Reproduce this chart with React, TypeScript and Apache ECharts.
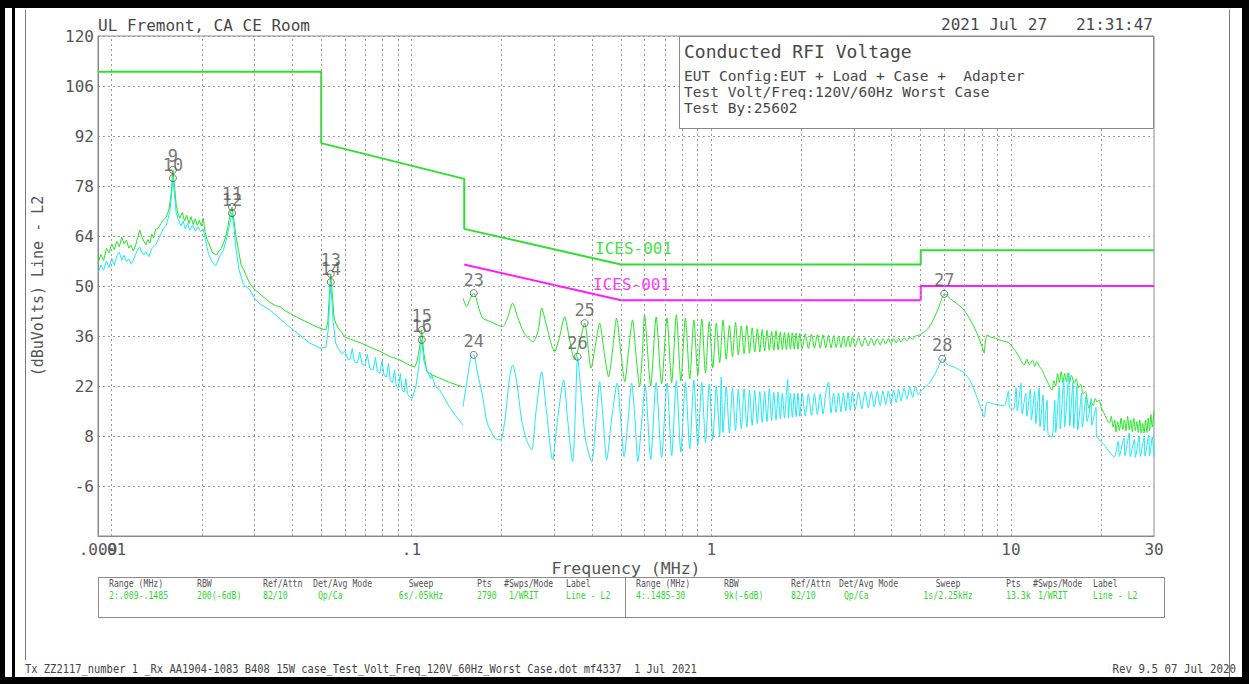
import React, { useEffect, useRef } from 'react';
import * as echarts from 'echarts';

// ---------- DATA (frequency in MHz, level in dBuV) ----------
const Y_TICKS = [-20, -6, 8, 22, 36, 50, 64, 78, 92, 106, 120];
const X_MIN = 0.009;
const X_MAX = 30;
const X_TICK_VALUES = [0.009, 0.01, 0.1, 1, 10, 30];
const X_TICK_LABELS = ['.009', '.01', '.1', '1', '10', '30'];
const GRID_FREQS = [0.01, 0.02, 0.03, 0.04, 0.05, 0.06, 0.07, 0.08, 0.09, 0.1, 0.2, 0.3, 0.4, 0.5, 0.6, 0.7, 0.8, 0.9, 1, 2, 3, 4, 5, 6, 7, 8, 9, 10, 20];

const qpSeg1: [number, number][] = [
  [0.009, 56.4], [0.0092, 58.8], [0.0094, 57.2], [0.0096, 60.5], [0.0098, 59.3], [0.01, 61.8], [0.0102, 60.2], [0.0104, 62.5], [0.0106, 61], [0.0108, 63.7], [0.011, 61.8], [0.0112, 62.8], [0.0114, 60.6], [0.0116, 61.5], [0.0118, 59.8], [0.012, 61.2], [0.0122, 63.5], [0.0124, 65.7], [0.0126, 63.8], [0.0128, 62.5], [0.013, 61.5], [0.0132, 63], [0.0134, 62], [0.0136, 64.5], [0.0138, 63.5], [0.014, 65.8], [0.0143, 66.2], [0.0146, 67.5], [0.0149, 68.6], [0.0152, 69.3], [0.0155, 71.2], [0.0158, 76], [0.016, 82.5], [0.0162, 78], [0.0164, 73], [0.0166, 70.4], [0.0169, 69], [0.0172, 70.6], [0.0175, 68.2], [0.0178, 69.8], [0.0181, 67.5], [0.0184, 69.4], [0.0187, 67.2], [0.019, 68.8], [0.0193, 67], [0.0196, 68.4], [0.0199, 66.8], [0.0202, 69], [0.0205, 65], [0.0208, 62.9], [0.0212, 61.5], [0.0216, 59.5], [0.022, 59], [0.0224, 58.7], [0.0228, 59.8], [0.0232, 60.5], [0.0236, 62], [0.024, 63.8], [0.0244, 66.5], [0.0248, 70], [0.0252, 72.1], [0.0256, 68], [0.026, 63.7], [0.0265, 60], [0.027, 56], [0.0276, 54.5], [0.0282, 52.5], [0.029, 50.5], [0.03, 49], [0.031, 48], [0.032, 47], [0.0336, 45.5], [0.0352, 44.5], [0.0364, 44.2], [0.038, 43], [0.04, 42], [0.042, 41], [0.0445, 40], [0.047, 39], [0.0495, 38.2], [0.0518, 37.7], [0.0526, 40], [0.0532, 47], [0.0538, 53.4], [0.0545, 47], [0.0552, 41], [0.0559, 39.6], [0.057, 38.2], [0.0585, 37], [0.06, 35.7], [0.064, 34.8], [0.068, 34], [0.0726, 32.9], [0.078, 31.8], [0.0846, 30.3], [0.0914, 29.3], [0.0986, 27.8], [0.1025, 27.3], [0.1045, 29], [0.1065, 33], [0.1082, 37.7], [0.11, 31], [0.1125, 26], [0.118, 25], [0.1242, 24.2], [0.1341, 23], [0.1485, 21.7]
];

const avSeg1: [number, number][] = [
  [0.009, 53.6], [0.0092, 55.8], [0.0094, 54.5], [0.0096, 57], [0.0098, 55.2], [0.01, 57.8], [0.0102, 55.8], [0.0104, 58.5], [0.0106, 59.5], [0.0108, 57.2], [0.011, 58.6], [0.0112, 56.8], [0.0114, 57.6], [0.0116, 56.2], [0.0118, 57.2], [0.012, 58.8], [0.0122, 60.2], [0.0124, 60.9], [0.0126, 59.5], [0.0128, 58.7], [0.013, 59.6], [0.0133, 58.2], [0.0136, 60.5], [0.014, 61.5], [0.0144, 63.5], [0.0148, 65.7], [0.0152, 67], [0.0156, 70.5], [0.0158, 74.5], [0.016, 80.2], [0.0162, 75.5], [0.0164, 70.5], [0.0167, 68.5], [0.017, 66.8], [0.0173, 68.2], [0.0176, 66], [0.0179, 67.5], [0.0182, 65.6], [0.0186, 67], [0.019, 65.4], [0.0194, 66.6], [0.0198, 65.2], [0.0202, 66], [0.0206, 62.5], [0.021, 59.2], [0.0214, 57.5], [0.0218, 56.4], [0.0222, 55.6], [0.0226, 57], [0.023, 58.5], [0.0236, 60.1], [0.0242, 63.5], [0.0247, 67], [0.0252, 70.4], [0.0256, 66], [0.026, 60.1], [0.0266, 54.5], [0.0275, 50.5], [0.0289, 48.9], [0.03, 46.5], [0.0312, 45], [0.0337, 43.3], [0.0364, 40.8], [0.0393, 38.5], [0.042, 36.5], [0.0458, 34], [0.0495, 32.6], [0.0518, 32.8], [0.0528, 38], [0.0538, 51.1], [0.0548, 40], [0.0559, 34], [0.057, 32.5], [0.0585, 31], [0.06, 31.8], [0.0615, 29.5], [0.0623, 29.3], [0.0635, 32.5], [0.0645, 28.8], [0.066, 28.5], [0.0672, 31.5], [0.0685, 28], [0.07, 27.8], [0.0712, 30.8], [0.0726, 27], [0.0745, 26.5], [0.0758, 30], [0.077, 26], [0.0784, 25.6], [0.0798, 29], [0.081, 25], [0.0825, 24.5], [0.0838, 28.3], [0.085, 23.5], [0.0865, 23], [0.0878, 26.5], [0.089, 22], [0.0905, 21.5], [0.0918, 25.5], [0.093, 21], [0.0945, 20.3], [0.0958, 24], [0.097, 19.8], [0.0986, 18.9], [0.1007, 18.6], [0.1035, 22], [0.106, 28], [0.1082, 34.9], [0.11, 29], [0.1125, 26.5], [0.116, 24], [0.1165, 25.5], [0.12, 22], [0.1242, 20.9], [0.128, 19], [0.1341, 16], [0.14, 13.8], [0.1485, 11.1]
];

const qpSeg2: [number, number][] = [
  [0.1485, 46.6], [0.1528, 44.2], [0.157, 46.5], [0.1613, 48], [0.1685, 43.3], [0.1728, 41], [0.184, 40], [0.2013, 38.6], [0.209, 41], [0.2175, 45.2], [0.2259, 41.4], [0.2377, 36.8], [0.2546, 34.4], [0.265, 37.7], [0.2719, 43.8], [0.281, 39.5], [0.3003, 31.6], [0.312, 35.8], [0.3243, 41.4], [0.337, 34.9], [0.3501, 29.3], [0.3638, 34], [0.3781, 39.6], [0.3974, 27], [0.41, 33], [0.4243, 39.6], [0.44, 31], [0.4547, 24.6], [0.47, 33], [0.4833, 41], [0.5, 31], [0.5149, 23.2], [0.53, 32], [0.5463, 40.5], [0.562, 30], [0.5771, 21.8], [0.59, 32], [0.599, 41.9],
  [0.628, 22], [0.655, 41.3], [0.683, 22.6], [0.712, 41], [0.738, 23], [0.765, 42], [0.792, 23.5], [0.82, 41], [0.848, 24], [0.875, 40.5], [0.902, 25], [0.93, 40.8], [0.957, 25.6], [0.985, 40], [1.012, 27], [1.04, 39.6], [1.067, 28.5], [1.095, 40.5], [1.122, 29.5], [1.15, 39], [1.177, 30.2], [1.205, 39.8], [1.232, 30.7], [1.26, 38.8], [1.287, 31], [1.315, 39], [1.342, 31.2], [1.37, 38.3], [1.397, 31.5], [1.425, 38], [1.452, 31.5], [1.48, 37.8], [1.507, 31.8], [1.535, 37.6], [1.562, 32], [1.59, 37.3], [1.617, 32], [1.645, 37.5], [1.672, 32.1], [1.7, 37.1], [1.727, 32.2], [1.755, 37], [1.782, 32.2], [1.81, 36.9], [1.837, 32.3], [1.865, 36.9], [1.892, 32.3], [1.92, 36.8], [1.947, 32.3], [1.975, 36.7], [2.01, 32.4], [2.06, 36.6], [2.11, 32.5], [2.16, 36.5], [2.21, 32.6], [2.26, 36.4], [2.31, 32.6], [2.36, 36.3], [2.41, 32.7], [2.46, 36.2], [2.51, 32.7], [2.56, 36.1], [2.61, 32.8], [2.66, 36], [2.71, 32.8], [2.76, 35.9], [2.81, 32.9], [2.86, 35.8], [2.91, 32.9], [2.96, 35.7], [3.02, 33], [3.1, 35.6], [3.18, 33.1], [3.26, 35.5], [3.34, 33.2], [3.42, 35.4], [3.5, 33.3], [3.58, 35.3], [3.66, 33.5], [3.74, 35.3], [3.82, 33.7], [3.9, 35.3], [3.98, 33.9], [4.06, 35.3], [4.14, 34.1], [4.22, 35.4], [4.3, 34.3], [4.4, 35.5], [4.5, 34.6], [4.6, 35.7], [4.7, 35.1], [4.8, 36], [4.95, 36.3],
  [5.15, 37.2], [5.34, 38.5], [5.5, 40.5], [5.7, 43.3], [5.85, 46], [5.99, 47.8], [6.1, 47.5], [6.23, 46.6], [6.5, 45.5], [6.88, 43.8], [7.2, 41.5], [7.54, 38.5], [7.85, 35], [8.05, 32.5], [8.14, 31.2], [8.2, 34], [8.33, 36.3], [8.6, 35.6], [8.9, 35.4], [9.14, 34.9], [9.5, 34.5], [9.8, 34.2], [10, 33.5], [10.5, 31], [11.07, 27.9], [11.3, 29.5], [11.5, 28], [11.8, 29.2], [12, 27.5], [12.2, 28.8], [12.42, 27.5], [12.7, 26.5], [13, 24.5], [13.35, 22.5], [13.7, 20.9], [13.9, 23.5], [14.1, 22], [14.3, 25.5], [14.5, 23], [14.7, 26], [14.9, 23], [15.1, 25.5], [15.3, 23.2], [15.5, 25.7], [15.7, 23], [15.9, 25], [16.25, 22.8], [16.5, 24], [16.8, 21.5], [17.1, 22.5], [17.4, 19.8], [17.7, 20.5], [18, 17.5], [18.2, 15.8], [18.5, 17.5], [18.8, 16.5], [19.1, 18.5], [19.4, 17.5], [19.7, 18.1], [20, 16], [20.4, 14.5], [20.8, 13], [21.3, 11.6], [21.6, 13.5], [21.9, 10.5], [22.2, 12.5], [22.4, 9.1], [22.7, 12], [23, 9.5], [23.3, 13], [23.6, 9.8], [23.9, 12.5], [24.2, 9.5], [24.5, 13.5], [24.8, 9.7], [25.1, 12.5], [25.4, 9.2], [25.7, 13], [26, 9.5], [26.3, 12], [26.6, 9], [26.9, 12.5], [27.2, 8.8], [27.5, 11.5], [27.8, 8.8], [28.1, 12.5], [28.4, 9], [28.7, 13], [29, 9.5], [29.3, 14], [29.6, 10.5], [30, 15]
];

const avSeg2: [number, number][] = [
  [0.1485, 16.2], [0.1528, 22.8], [0.158, 30.2], [0.1613, 30.7], [0.1653, 26.5], [0.1728, 19], [0.179, 11.6], [0.19, 7.4], [0.198, 6.9], [0.205, 12.5], [0.212, 23.7], [0.2175, 27.9], [0.224, 23.7], [0.233, 12.5], [0.242, 6.9], [0.2517, 4.1], [0.26, 14.4], [0.2719, 26], [0.281, 16.2], [0.2957, 1.3], [0.307, 12.5], [0.3218, 23.7], [0.332, 12.5], [0.3448, 0.8], [0.352, 14.4], [0.3583, 30.2], [0.367, 20.9], [0.381, 6.9], [0.3991, 0.8], [0.413, 12.5], [0.4243, 23.2], [0.436, 12.5], [0.4478, 1.3], [0.465, 12.5], [0.4855, 22.8], [0.499, 12.5], [0.512, 2.2], [0.528, 12.5], [0.5425, 22.8], [0.557, 12.5], [0.569, 0.9], [0.587, 12.5], [0.602, 22.3],
  [0.628, 1.5], [0.655, 23], [0.683, 2], [0.712, 22.8], [0.738, 2.5], [0.765, 23.5], [0.792, 3.5], [0.82, 23], [0.848, 4.5], [0.875, 23.7], [0.902, 5.5], [0.93, 23], [0.957, 6.2], [0.985, 22.5], [1.012, 7], [1.04, 22], [1.067, 8], [1.08, 24.5], [1.095, 9], [1.122, 21.8], [1.15, 8.8], [1.177, 21.5], [1.205, 9.5], [1.232, 21], [1.26, 10], [1.287, 21.2], [1.315, 10.5], [1.342, 20.8], [1.37, 11], [1.397, 20.8], [1.425, 11.5], [1.452, 20.5], [1.48, 11.8], [1.507, 20.5], [1.535, 12], [1.562, 21.2], [1.59, 12.3], [1.617, 20.2], [1.645, 12.5], [1.672, 20.3], [1.7, 12.8], [1.727, 20], [1.755, 13], [1.782, 20.1], [1.8, 23.8], [1.81, 13], [1.837, 20], [1.865, 13.2], [1.892, 19.9], [1.92, 13.4], [1.947, 20], [1.975, 13.5], [2.01, 20], [2.06, 13.6], [2.11, 19.8], [2.16, 13.8], [2.21, 19.9], [2.26, 14], [2.31, 19.8], [2.36, 14.2], [2.41, 19.9], [2.46, 23.1], [2.51, 14.4], [2.56, 19.9], [2.61, 14.6], [2.66, 20], [2.71, 14.8], [2.76, 20.1], [2.81, 15], [2.86, 20.2], [2.91, 15.2], [2.96, 20.3], [3.02, 15.4], [3.1, 20.3], [3.18, 15.6], [3.26, 20.4], [3.34, 15.9], [3.42, 20.4], [3.5, 16.2], [3.58, 20.5], [3.66, 16.5], [3.74, 20.6], [3.82, 16.8], [3.9, 20.6], [3.98, 17.1], [4.06, 20.8], [4.14, 17.4], [4.22, 21], [4.3, 17.8], [4.4, 21.4], [4.5, 18.3], [4.6, 21.8], [4.7, 18.8], [4.8, 22], [4.9, 19.5],
  [5, 20.5], [5.15, 21.5], [5.34, 22.8], [5.5, 24.5], [5.7, 27], [5.9, 29.6], [6.05, 28.5], [6.2, 27.8], [6.47, 27.3], [6.99, 25.6], [7.3, 23.5], [7.54, 20.9], [7.8, 17.5], [8, 15], [8.14, 13.3], [8.25, 16.5], [8.33, 17.5], [8.7, 17], [9.14, 16.7], [9.5, 16.4], [9.8, 20.5], [9.9, 16], [10.2, 15.5], [10.4, 21.5], [10.5, 15], [10.8, 22.8], [10.9, 14.2], [11.2, 20], [11.3, 13.5], [11.6, 21], [11.7, 12.5], [12, 20.5], [12.1, 11.5], [12.42, 21.5], [12.5, 10.5], [12.8, 19.5], [12.9, 9.5], [13.2, 18], [13.3, 8.5], [13.7, 7.7], [14, 18], [14.1, 9], [14.5, 22], [14.6, 10], [15, 24], [15.1, 10.5], [15.6, 25.6], [15.7, 10.8], [16.1, 23], [16.2, 10.2], [16.6, 22], [16.7, 9.7], [17.2, 20], [17.3, 10.5], [17.8, 19], [17.9, 12], [18.2, 14], [18.5, 18.5], [18.6, 11], [19.2, 16], [19.3, 8], [19.7, 6.9], [20.5, 5.5], [21.3, 3.5], [22.1, 2.1], [22.8, 6.5], [23, 2.3], [23.8, 7.5], [24, 2.5], [24.8, 8.8], [25, 2.2], [25.8, 7], [26, 2], [26.8, 8], [27, 2.3], [27.8, 7.5], [28, 2.4], [28.8, 8.2], [29, 2.5], [29.6, 7.7], [30, 2.1]
];

const qpLimit: [number, number][] = [[0.009, 110], [0.05, 110], [0.05, 90], [0.15, 80], [0.15, 66], [0.5, 56], [5, 56], [5, 60], [30, 60]];
const avLimit: [number, number][] = [[0.15, 56], [0.5, 46], [5, 46], [5, 50], [30, 50]];

const markerIds = ['9', '10', '11', '12', '13', '14', '15', '16', '23', '24', '25', '26', '27', '28'];
const markerFreqs = [0.016, 0.016, 0.0252, 0.0252, 0.0538, 0.0538, 0.1082, 0.1082, 0.1613, 0.1613, 0.3781, 0.3583, 5.99, 5.9];
const markerLevels = [82.5, 80.2, 72.1, 70.4, 53.4, 51.1, 37.7, 34.9, 48, 30.7, 39.6, 30.2, 47.8, 29.6];

const tableHeaders = ['Range (MHz)', 'RBW', 'Ref/Attn', 'Det/Avg Mode', 'Sweep', 'Pts', '#Swps/Mode', 'Label'];
const tableRowA = ['2:.009-.1485', '200(-6dB)', '82/10', ' Qp/Ca', '6s/.05kHz', '2790', ' 1/WRIT', 'Line - L2'];
const tableRowB = ['4:.1485-30', '9k(-6dB)', '82/10', ' Qp/Ca', '1s/2.25kHz', '13.3k', ' 1/WRIT', 'Line - L2'];

// ---------- styling ----------
const MONO = 'DejaVu Sans Mono';
const TXT = '#484848';
const LBL = '#555555';
const GREEN = '#22e622';
const CYAN = '#1ee8f5';
const LIM_GREEN = '#2ee02e';
const MAGENTA = '#ff1aff';

export default function App() {
  const ref = useRef<HTMLDivElement>(null);

  useEffect(() => {
    if (!ref.current) return;
    const chart = echarts.init(ref.current, undefined, { renderer: 'svg' });
    const yShift = -Y_TICKS[0];
    const yStep = Y_TICKS[1] - Y_TICKS[0];
    const sh = (pts: [number, number][]) => pts.map(([f, v]) => [f, v + yShift]);

    const trace = (name: string, pts: [number, number][], color: string, width = 1, z = 3, smooth: number | boolean = false) => ({
      name, type: 'line', data: sh(pts), showSymbol: false, symbol: 'none', smooth,
      lineStyle: { color, width }, itemStyle: { color }, z, silent: true, animation: false,
    });

    const txt = (text: string, x: number, y: number, size: number, fill = TXT, align = 'left', sx = 1) => ({
      type: 'text', x, y, scaleX: sx, silent: true, z: 100,
      style: { text, fill, font: `${size}px "${MONO}"`, align, textAlign: align, verticalAlign: 'middle', textVerticalAlign: 'middle' },
    });

    const colXA = [109, 197, 263, 313, 421, 477, 504, 566];
    const colXB = [636, 724, 791, 839, 948, 1006, 1033, 1093];
    const tableTexts: any[] = [];
    const pushRow = (xs: number[], vals: string[]) => {
      tableHeaders.forEach((h, i) => {
        const al = i === 4 ? 'center' : 'left';
        tableTexts.push(txt(h, xs[i], 584, 10, '#555', al, 0.82));
        tableTexts.push(txt(vals[i], xs[i], 596, 10, '#2fd62f', al, 0.82));
      });
    };
    pushRow(colXA, tableRowA);
    pushRow(colXB, tableRowB);

    const graphicBase: any[] = [
      // outer frame
      { type: 'rect', shape: { x: 0, y: 0, width: 1249, height: 8 }, style: { fill: '#000' }, silent: true, z: 100 },
      { type: 'rect', shape: { x: 0, y: 677, width: 1249, height: 7 }, style: { fill: '#000' }, silent: true, z: 100 },
      { type: 'rect', shape: { x: 0, y: 0, width: 5, height: 684 }, style: { fill: '#000' }, silent: true, z: 100 },
      { type: 'rect', shape: { x: 1242, y: 0, width: 7, height: 684 }, style: { fill: '#000' }, silent: true, z: 100 },
      { type: 'rect', shape: { x: 12, y: 8, width: 3, height: 669 }, style: { fill: '#000' }, silent: true, z: 100 },
      { type: 'line', shape: { x1: 25.5, y1: 10, x2: 25.5, y2: 660 }, style: { stroke: '#777', lineWidth: 1 }, silent: true, z: 100 },
      { type: 'line', shape: { x1: 1229.5, y1: 10, x2: 1229.5, y2: 677 }, style: { stroke: '#777', lineWidth: 1 }, silent: true, z: 100 },
      // header
      txt('UL Fremont, CA CE Room', 98, 25, 16),
      txt('2021 Jul 27   21:31:47', 1153, 24, 16, TXT, 'right'),
      { type: 'rect', shape: { x: 679.5, y: 36.5, width: 474, height: 92 }, style: { fill: '#fff', stroke: '#8a8a8a', lineWidth: 1 }, silent: true, z: 99 },
      txt('Conducted RFI Voltage', 684, 51, 18),
      txt('EUT Config:EUT + Load + Case +  Adapter', 684, 76, 14.5),
      txt('Test Volt/Freq:120V/60Hz Worst Case', 684, 92, 14.5),
      txt('Test By:25602', 684, 108, 14.5),
      // limit labels
      txt('ICES-001', 595, 248, 16, '#49e049'),
      txt('ICES-001', 593, 284, 16, '#ff3cff'),
      // table
      { type: 'rect', shape: { x: 98.5, y: 577.5, width: 1066, height: 40 }, style: { fill: 'none', stroke: '#8a8a8a', lineWidth: 1 }, silent: true, z: 100 },
      { type: 'line', shape: { x1: 625.5, y1: 577.5, x2: 625.5, y2: 617.5 }, style: { stroke: '#8a8a8a', lineWidth: 1 }, silent: true, z: 100 },
      ...tableTexts,
      // footer
      txt('Tx ZZ2117_number 1 _Rx AA1904-1083 B408 15W case_Test_Volt_Freq_120V_60Hz_Worst Case.dot mf4337  1 Jul 2021', 25, 669, 12, '#444', 'left', 0.87),
      txt('Rev 9.5 07 Jul 2020', 1236, 669, 12, '#444', 'right', 0.9),
    ];

    const option: any = {
      animation: false,
      backgroundColor: '#ffffff',
      grid: { left: 98, top: 36, width: 1056, height: 500, show: true, borderColor: '#8a8a8a', borderWidth: 1, backgroundColor: 'transparent' },
      xAxis: {
        type: 'log', logBase: 10, min: X_MIN, max: X_MAX,
        axisLine: { show: true, onZero: false, lineStyle: { color: '#8a8a8a', width: 1 } },
        axisTick: { show: false },
        splitLine: { show: false },
        axisLabel: { show: false },
        name: 'Frequency (MHz)', nameLocation: 'middle', nameGap: 24,
        nameTextStyle: { color: LBL, fontSize: 16.5, fontFamily: MONO },
      },
      yAxis: {
        type: 'value', min: 0, max: Y_TICKS[Y_TICKS.length - 1] + yShift, interval: yStep,
        axisLine: { show: true, lineStyle: { color: '#8a8a8a', width: 1 } },
        axisTick: { show: false },
        splitLine: { show: true, lineStyle: { color: '#9a9a9a', width: 1, type: [2, 3] } },
        axisLabel: {
          color: LBL, fontSize: 16, fontFamily: MONO, margin: 4,
          formatter: (v: number) => { const r = Math.round(v - yShift); return r === Y_TICKS[0] ? '' : String(r); },
        },
        name: '(dBuVolts) Line - L2', nameLocation: 'middle', nameGap: 53, nameRotate: 90,
        nameTextStyle: { color: LBL, fontSize: 15, fontFamily: MONO },
      },
      series: [
        {
          name: 'grid', type: 'line', data: [], silent: true, z: 1,
          markLine: {
            silent: true, symbol: ['none', 'none'], animation: false,
            label: { show: false },
            lineStyle: { color: '#9a9a9a', width: 1, type: [2, 3] },
            data: GRID_FREQS.map((f) => ({ xAxis: f })),
          },
        },
        trace('QP limit', qpLimit, LIM_GREEN, 2, 2),
        trace('AV limit', avLimit, MAGENTA, 2, 2),
        trace('QP seg1', qpSeg1, GREEN),
        trace('QP seg2', qpSeg2, GREEN, 1, 3, 0.25),
        trace('AV seg1', avSeg1, CYAN, 1, 4),
        trace('AV seg2', avSeg2, CYAN, 1, 4, 0.25),
        {
          name: 'markers', type: 'scatter', z: 6, silent: true,
          data: markerIds.map((id, i) => ({ value: [markerFreqs[i], markerLevels[i] + yShift], name: id })),
          symbol: 'circle', symbolSize: 7,
          itemStyle: { color: 'rgba(255,255,255,0)', borderColor: '#555', borderWidth: 1 },
          label: { show: true, position: 'top', distance: 1, formatter: (p: any) => p.name, color: LBL, fontSize: 17, fontFamily: MONO },
        },
      ],
      graphic: graphicBase,
    };

    chart.setOption(option);
    const xLabels = X_TICK_VALUES.map((f, i) => {
      const px = chart.convertToPixel({ xAxisIndex: 0 }, f) as unknown as number;
      return txt(X_TICK_LABELS[i], px, 549, 16, LBL, 'center');
    });
    chart.setOption({ graphic: [...graphicBase, ...xLabels] });
    return () => chart.dispose();
  }, []);

  return <div ref={ref} style={{ position: 'fixed', left: 0, top: 0, width: 1249, height: 684, background: '#fff' }} />;
}
